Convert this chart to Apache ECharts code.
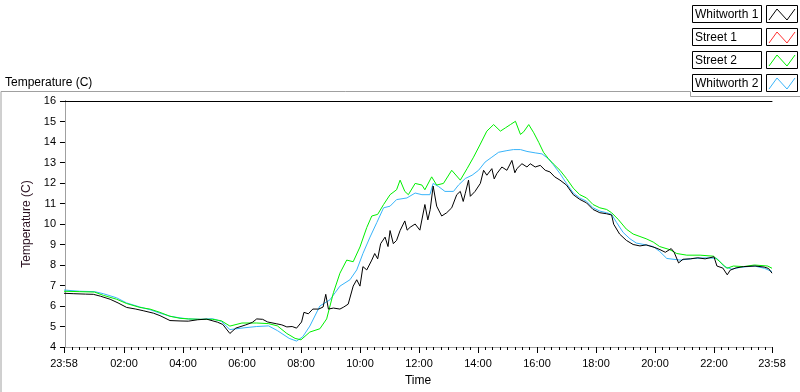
<!DOCTYPE html>
<html>
<head>
<meta charset="utf-8">
<script src="https://cdn.jsdelivr.net/npm/echarts@6/dist/echarts.min.js"></script>
<style>
html,body{margin:0;padding:0;background:#fff;}
#main{width:800px;height:392px;}
</style>
</head>
<body>
<div id="main"></div>
<script>
// time in hours after midnight, chart runs 23:58 -> 23:58
var tStart = -2 / 60;
var tEnd = 24 - 2 / 60;
var majorTickHours = [tStart, 2, 4, 6, 8, 10, 12, 14, 16, 18, 20, 22, tEnd];

var seriesNames = ['Whitworth 1', 'Street 1', 'Street 2', 'Whitworth 2'];
var seriesColors = ['#000000', '#ff3030', '#00f000', '#38b4fa'];

// Whitworth 1 (black)
var whitworth1Hours = [tStart, 0.3, 0.7, 0.96, 1.2, 1.53, 1.8, 2.09, 2.4, 2.65, 3.0, 3.22, 3.56, 3.9, 4.18, 4.5, 4.8, 5.17, 5.35, 5.59, 5.79, 6.13, 6.35, 6.5, 6.7, 6.87, 7.18, 7.35, 7.52, 7.7, 7.85, 8.02, 8.1, 8.25, 8.4, 8.6, 8.75, 8.84, 8.93, 9.1, 9.32, 9.45, 9.6, 9.77, 9.89, 10.0, 10.1, 10.23, 10.4, 10.5, 10.6, 10.7, 10.85, 10.95, 11.02, 11.13, 11.24, 11.36, 11.52, 11.6, 11.7, 11.87, 12.03, 12.2, 12.3, 12.38, 12.48, 12.6, 12.77, 12.94, 13.11, 13.28, 13.4, 13.5, 13.57, 13.68, 13.74, 13.9, 14.08, 14.19, 14.3, 14.47, 14.55, 14.64, 14.81, 14.98, 15.15, 15.25, 15.32, 15.49, 15.66, 15.77, 15.94, 16.11, 16.28, 16.44, 16.6, 16.78, 17.0, 17.23, 17.45, 17.68, 17.9, 18.13, 18.36, 18.53, 18.6, 18.8, 19.03, 19.26, 19.49, 19.7, 20.0, 20.17, 20.35, 20.55, 20.65, 20.8, 20.95, 21.2, 21.45, 21.7, 22.0, 22.1, 22.3, 22.45, 22.55, 22.75, 23.0, 23.4, 23.7, 23.85, tEnd];
var whitworth1Temps = [6.62, 6.6, 6.58, 6.57, 6.48, 6.33, 6.15, 5.93, 5.85, 5.77, 5.65, 5.53, 5.29, 5.27, 5.26, 5.33, 5.36, 5.21, 5.1, 4.66, 4.92, 5.08, 5.2, 5.37, 5.35, 5.22, 5.13, 5.08, 4.98, 5.0, 4.92, 5.22, 5.69, 5.62, 5.85, 5.85, 5.95, 6.57, 5.85, 5.9, 5.85, 5.95, 6.09, 6.97, 7.28, 6.97, 7.92, 7.76, 8.24, 8.56, 8.3, 9.04, 9.36, 8.9, 9.68, 9.04, 9.2, 9.68, 10.15, 9.7, 9.84, 10.0, 9.7, 10.95, 10.2, 10.7, 11.85, 10.87, 10.39, 10.55, 10.79, 11.43, 11.59, 11.1, 11.5, 12.14, 11.35, 11.59, 11.98, 12.62, 12.38, 12.7, 12.2, 12.46, 12.78, 12.62, 13.1, 12.5, 12.7, 12.94, 12.78, 12.94, 12.78, 12.86, 12.62, 12.54, 12.3, 12.14, 11.9, 11.43, 11.2, 11.03, 10.71, 10.55, 10.5, 10.44, 9.99, 9.51, 9.2, 9.0, 8.93, 8.98, 8.85, 8.75, 8.62, 8.8, 8.62, 8.1, 8.28, 8.3, 8.35, 8.3, 8.4, 7.95, 7.85, 7.52, 7.75, 7.86, 7.92, 7.95, 7.9, 7.83, 7.6];

// Street 1 (red) has no samples in this plot
var street1Hours = [];
var street1Temps = [];

// Street 2 (green)
var street2Hours = [tStart, 0.5, 1.0, 1.3, 1.75, 2.09, 2.54, 2.88, 3.22, 3.56, 3.9, 4.18, 4.6, 5.0, 5.3, 5.59, 6.0, 6.5, 6.9, 7.2, 7.52, 7.8, 8.0, 8.3, 8.64, 8.87, 9.1, 9.32, 9.55, 9.77, 10.0, 10.23, 10.4, 10.6, 10.8, 11.02, 11.24, 11.36, 11.52, 11.64, 11.87, 12.1, 12.2, 12.43, 12.6, 12.83, 13.11, 13.4, 13.63, 13.85, 14.08, 14.3, 14.53, 14.76, 14.93, 15.1, 15.27, 15.44, 15.55, 15.72, 15.89, 16.06, 16.22, 16.39, 16.55, 16.78, 17.0, 17.23, 17.45, 17.68, 17.9, 18.13, 18.36, 18.53, 18.75, 19.03, 19.26, 19.49, 19.7, 19.94, 20.16, 20.5, 20.74, 21.08, 21.53, 21.98, 22.2, 22.44, 22.66, 23.0, 23.37, 23.82, tEnd];
var street2Temps = [6.72, 6.7, 6.68, 6.52, 6.33, 6.12, 5.93, 5.85, 5.69, 5.5, 5.4, 5.37, 5.35, 5.35, 5.28, 5.02, 5.17, 5.17, 5.14, 5.03, 4.66, 4.42, 4.35, 4.73, 4.89, 5.37, 6.65, 7.6, 8.24, 8.16, 8.88, 9.83, 10.39, 10.47, 10.95, 11.43, 11.67, 12.14, 11.59, 11.43, 11.98, 11.9, 11.67, 12.3, 11.9, 11.98, 12.62, 12.14, 12.7, 13.26, 13.9, 14.53, 14.85, 14.53, 14.69, 14.85, 15.01, 14.37, 14.5, 14.85, 14.45, 13.98, 13.5, 13.18, 12.94, 12.62, 12.22, 11.75, 11.43, 11.27, 10.95, 10.79, 10.71, 10.55, 10.23, 9.75, 9.51, 9.39, 9.28, 9.12, 8.9, 8.75, 8.56, 8.48, 8.48, 8.43, 8.16, 7.84, 7.95, 7.92, 8.0, 7.95, 7.84];

// Whitworth 2 (light blue)
var whitworth2Hours = [tStart, 0.5, 1.0, 1.3, 1.75, 2.09, 2.54, 2.88, 3.22, 3.56, 3.9, 4.18, 4.6, 5.0, 5.3, 5.59, 6.1, 6.5, 6.9, 7.2, 7.6, 7.85, 8.06, 8.3, 8.64, 8.98, 9.32, 9.66, 9.89, 10.1, 10.34, 10.57, 10.8, 11.02, 11.24, 11.59, 11.87, 12.1, 12.37, 12.48, 12.66, 12.88, 13.17, 13.34, 13.57, 13.8, 14.02, 14.24, 14.47, 14.7, 14.98, 15.2, 15.44, 15.66, 15.94, 16.17, 16.39, 16.55, 16.78, 17.0, 17.23, 17.45, 17.68, 17.9, 18.13, 18.36, 18.53, 18.7, 18.92, 19.15, 19.37, 19.7, 19.94, 20.16, 20.4, 20.85, 21.3, 21.75, 22.1, 22.35, 22.6, 22.9, 23.37, 23.71, tEnd];
var whitworth2Temps = [6.78, 6.72, 6.7, 6.6, 6.4, 6.15, 5.95, 5.82, 5.65, 5.5, 5.42, 5.37, 5.35, 5.38, 5.25, 4.85, 4.94, 5.0, 5.03, 4.8, 4.42, 4.29, 4.5, 5.02, 6.0, 6.3, 6.97, 7.28, 7.76, 8.56, 9.36, 10.07, 10.79, 10.87, 11.19, 11.27, 11.51, 11.43, 11.43, 11.98, 11.83, 11.59, 11.59, 11.9, 12.22, 12.38, 12.62, 13.02, 13.26, 13.5, 13.58, 13.63, 13.63, 13.54, 13.47, 13.42, 13.18, 12.9, 12.46, 11.98, 11.51, 11.27, 11.11, 10.79, 10.63, 10.55, 10.47, 10.07, 9.59, 9.28, 9.07, 8.98, 8.9, 8.66, 8.32, 8.24, 8.32, 8.35, 8.32, 7.92, 7.8, 7.89, 7.95, 7.84, 7.68];

var allHours = [whitworth1Hours, street1Hours, street2Hours, whitworth2Hours];
var allTemps = [whitworth1Temps, street1Temps, street2Temps, whitworth2Temps];

var FONT = '"Liberation Sans", Arial, sans-serif';

function hourLabel(v) {
    var m = Math.round(v * 60);
    m = ((m % 1440) + 1440) % 1440;
    var hh = Math.floor(m / 60), mm = m % 60;
    return (hh < 10 ? '0' : '') + hh + ':' + (mm < 10 ? '0' : '') + mm;
}

// minor ticks every quarter hour between the labelled ones
var minorTickHours = [];
for (var q = 1; q < 96; q++) {
    if (q % 8 !== 0) minorTickHours.push(q / 4);
}

var series = [];
for (var i = 0; i < seriesNames.length; i++) {
    var pts = [];
    for (var j = 0; j < allHours[i].length; j++) {
        pts.push([allHours[i][j], allTemps[i][j]]);
    }
    series.push({
        name: seriesNames[i],
        type: 'line',
        xAxisIndex: 0,
        yAxisIndex: 0,
        data: pts,
        symbol: 'none',
        lineStyle: { color: seriesColors[i], width: 1 },
        itemStyle: { color: seriesColors[i] },
        z: 10 - i
    });
}

// legend drawn LabVIEW style: name box + swatch box
var legendTops = [5, 28, 51, 74];
var graphics = [
    { type: 'polyline', silent: true, shape: { points: [[1, 392], [1, 91.5], [690.5, 91.5], [690.5, 96.5], [800, 96.5]] },
      style: { stroke: '#a0a0a0', fill: null, lineWidth: 1 } }
];
legendTops.forEach(function (top, k) {
    graphics.push({ type: 'rect', silent: true, shape: { x: 692.5, y: top + 0.5, width: 69, height: 17 },
        style: { fill: '#fff', stroke: '#000', lineWidth: 1 } });
    graphics.push({ type: 'text', silent: true, x: 695, y: top + 9.5,
        style: { text: seriesNames[k], fill: '#000', font: '12px ' + FONT, verticalAlign: 'middle' } });
    graphics.push({ type: 'rect', silent: true, shape: { x: 766.5, y: top + 0.5, width: 31, height: 17 },
        style: { fill: '#fff', stroke: '#000', lineWidth: 1 } });
    graphics.push({ type: 'polyline', silent: true,
        shape: { points: [[769, top + 15], [777, top + 4], [787, top + 15], [795, top + 4]] },
        style: { stroke: seriesColors[k], fill: null, lineWidth: 1 } });
});

var myChart = echarts.init(document.getElementById('main'), null, { renderer: 'canvas' });
var option = {
    animation: false,
    backgroundColor: '#fff',
    textStyle: { fontFamily: FONT },
    title: {
        text: 'Temperature (C)',
        left: 0, top: 72,
        textStyle: { fontSize: 12, fontWeight: 'normal', color: '#000', fontFamily: FONT }
    },
    grid: { left: 64, top: 101, width: 708, height: 251, containLabel: false },
    xAxis: [
        {
            type: 'value', min: tStart, max: tEnd, position: 'bottom',
            name: 'Time', nameLocation: 'middle', nameGap: 28,
            nameTextStyle: { fontSize: 12, color: '#000', fontFamily: FONT },
            axisLine: { show: true, lineStyle: { color: '#a0a0a0', width: 1 } },
            axisTick: { show: true, customValues: majorTickHours, length: 6, lineStyle: { color: '#000', width: 1 } },
            axisLabel: { customValues: majorTickHours, formatter: hourLabel, fontSize: 11, color: '#000', margin: 11, fontFamily: FONT },
            splitLine: { show: false }
        },
        {
            type: 'value', min: tStart, max: tEnd, position: 'bottom',
            axisLine: { show: false },
            axisTick: { show: true, customValues: minorTickHours, length: 3, lineStyle: { color: '#000', width: 1 } },
            axisLabel: { show: false },
            splitLine: { show: false }
        },
        {
            type: 'value', min: tStart, max: tEnd, position: 'top',
            axisLine: { show: true, lineStyle: { color: '#000', width: 1 } },
            axisTick: { show: false }, axisLabel: { show: false }, splitLine: { show: false }
        }
    ],
    yAxis: [
        {
            type: 'value', min: 4, max: 16, interval: 1, position: 'left',
            name: 'Temperature (C)', nameLocation: 'middle', nameGap: 21,
            nameTextStyle: { fontSize: 12, color: '#2a1020', fontFamily: FONT },
            axisLine: { show: true, lineStyle: { color: '#000', width: 1 } },
            axisTick: { show: true, length: 5, lineStyle: { color: '#000' } },
            axisLabel: { fontSize: 11, color: '#000', margin: 8, fontFamily: FONT },
            splitLine: { show: false }
        },
        {
            type: 'value', min: 4, max: 16, position: 'right',
            axisLine: { show: true, lineStyle: { color: '#a0a0a0', width: 1 } },
            axisTick: { show: false }, axisLabel: { show: false }, splitLine: { show: false }
        }
    ],
    graphic: graphics,
    series: series
};
option && myChart.setOption(option);
</script>
</body>
</html>
